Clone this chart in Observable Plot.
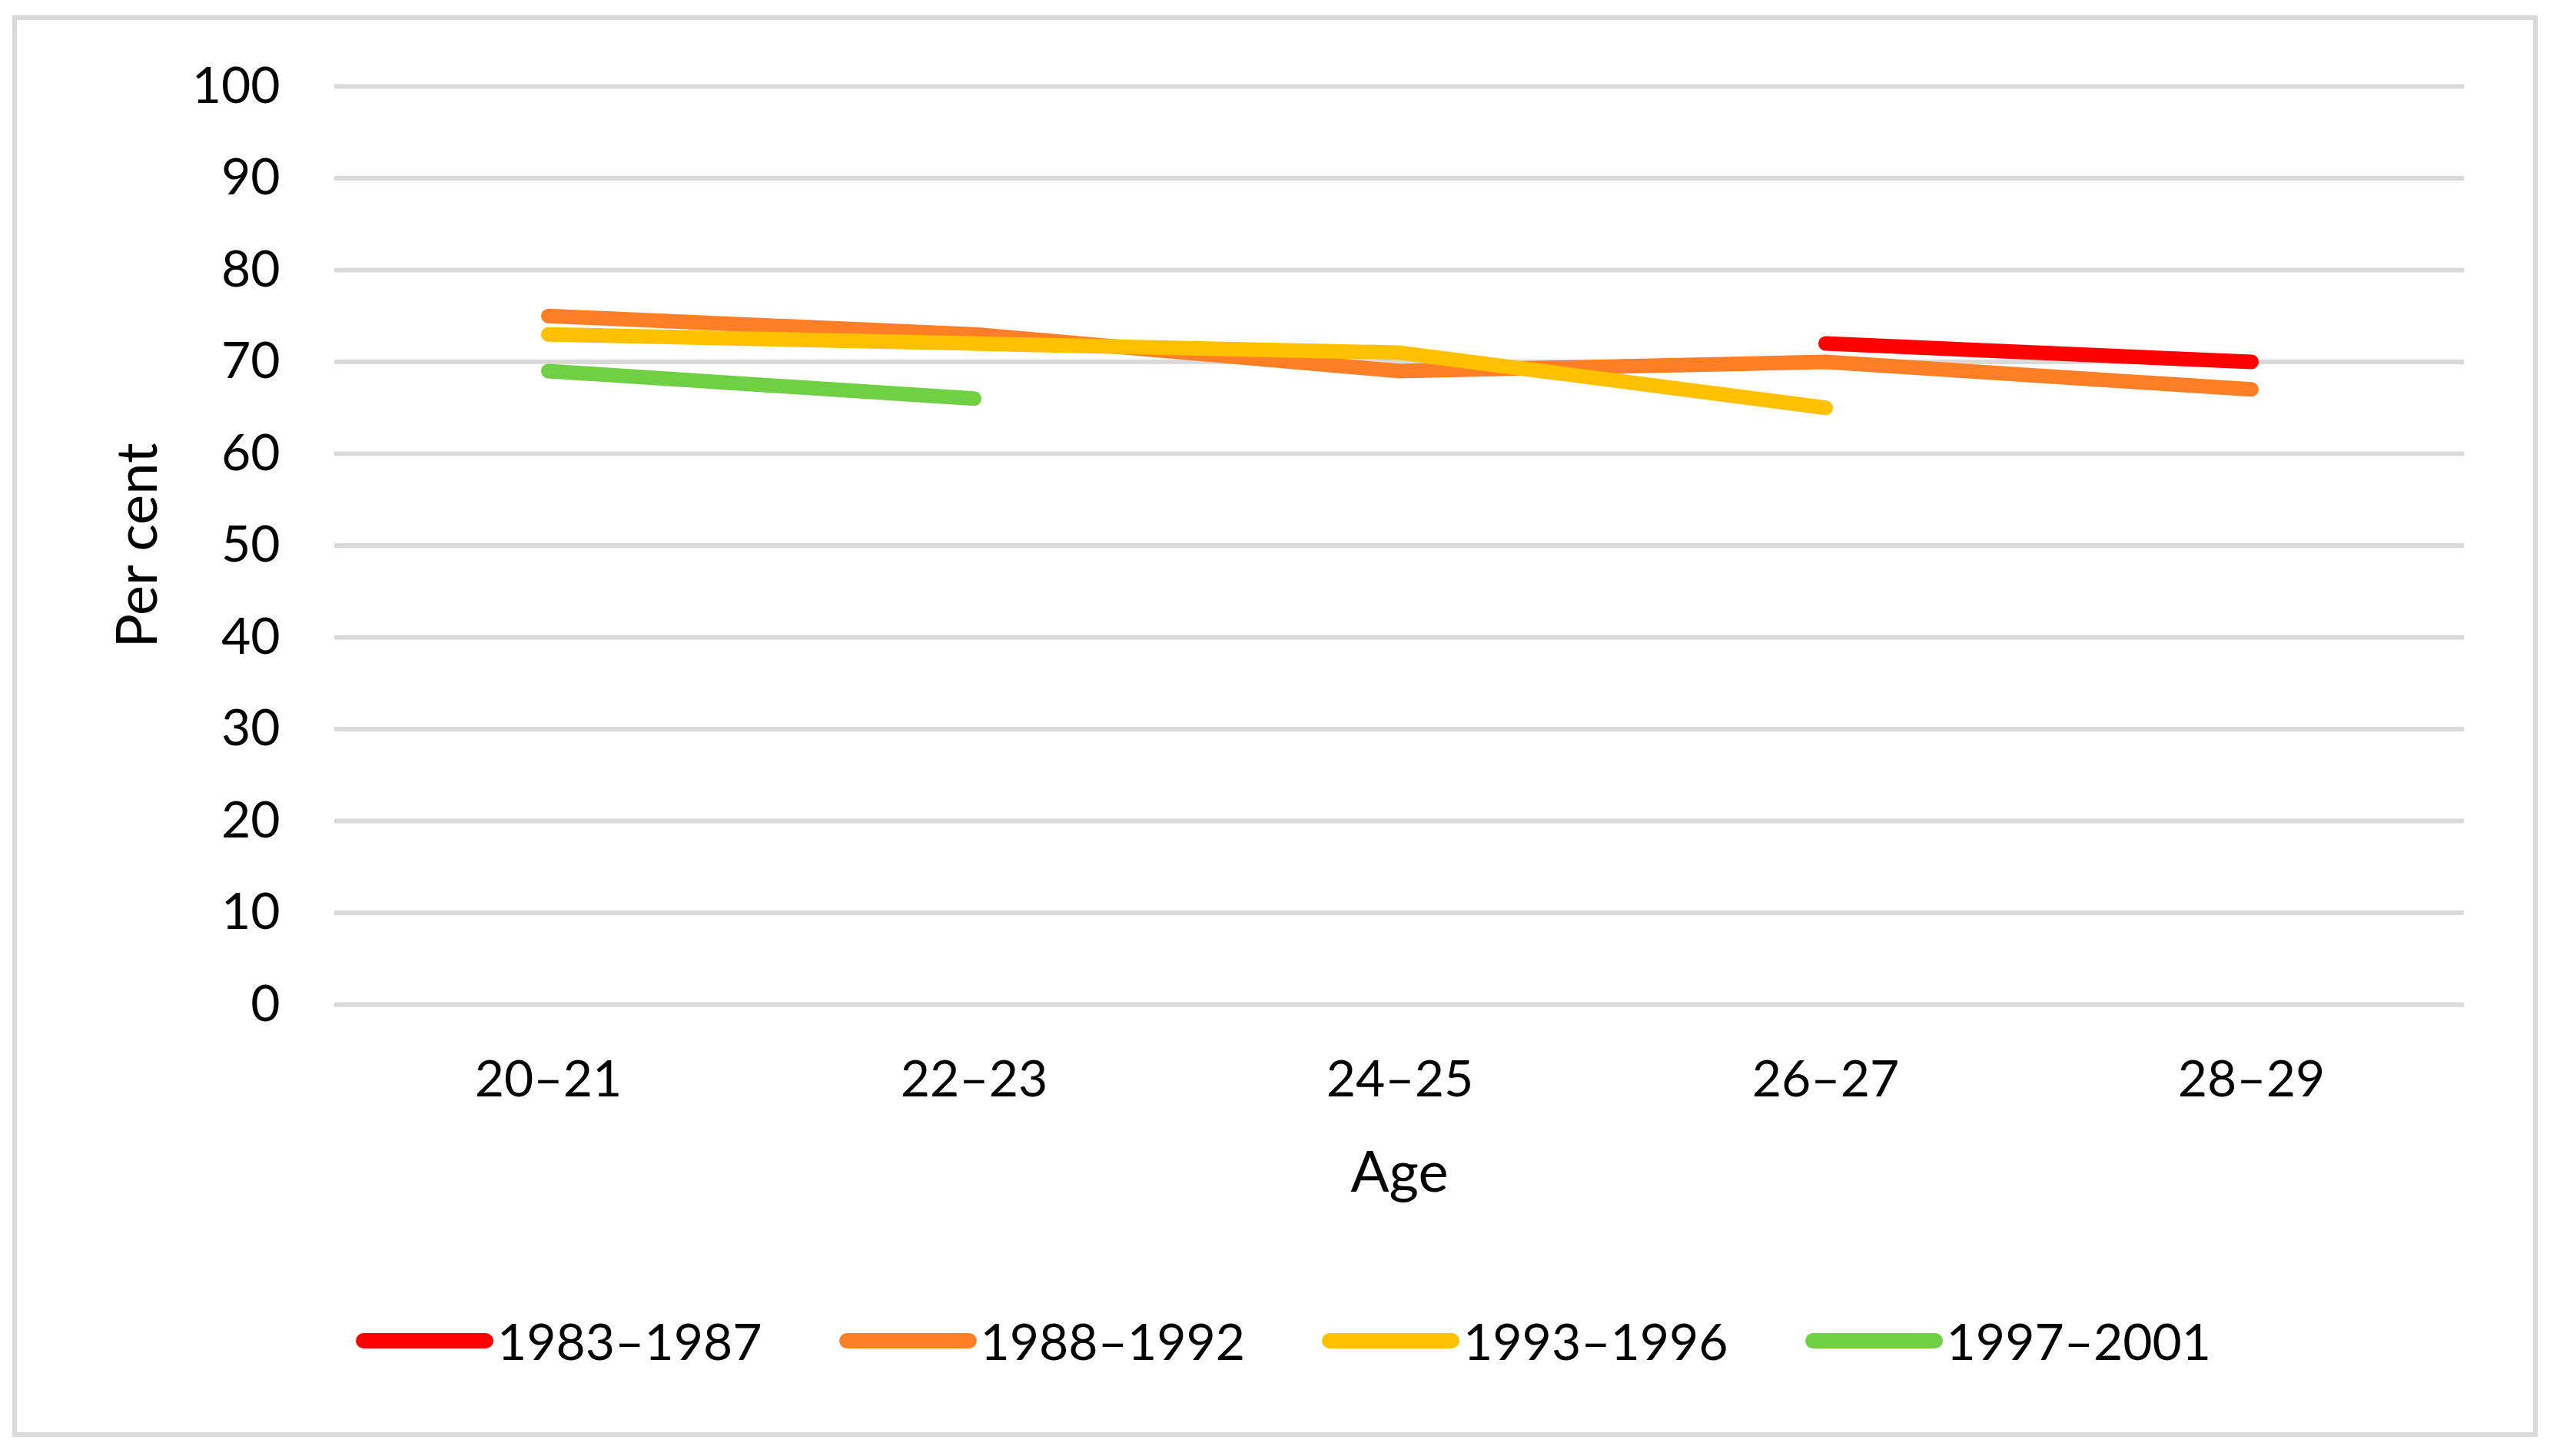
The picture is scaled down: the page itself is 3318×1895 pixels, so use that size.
<!DOCTYPE html>
<html>
<head>
<meta charset="utf-8">
<script src="https://cdn.jsdelivr.net/npm/d3@7"></script>
<script src="https://cdn.jsdelivr.net/npm/@observablehq/plot@0.6"></script>
<style>
  html, body { margin: 0; padding: 0; background: #fff; overflow: hidden; }
  body { width: 3318px; height: 1895px; position: relative; font-family: Lato, "Open Sans", sans-serif; }
  #frame { position: absolute; left: 16px; top: 20px; width: 3286px; height: 1850px; border: 6px solid #d9d9d9; box-sizing: border-box; }
  #chart { position: absolute; left: 0; top: 0; }
  #legend { position: absolute; left: 463px; top: 1705px; display: flex; align-items: center; gap: 100px; font-size: 66px; color: #000; }
  .item { display: flex; align-items: center; gap: 5px; }
  .item svg { display: block; }
</style>
</head>
<body>
<div id="frame"></div>
<div id="chart"></div>
<div id="legend"></div>
<script>
const ages = ["20–21", "22–23", "24–25", "26–27", "28–29"];
const seriesNames = ["1983–1987", "1988–1992", "1993–1996", "1997–2001"];
const seriesColors = ["#ff0000", "#ff7f27", "#ffc000", "#70d044"];
const s1983_1987 = [null, null, null, 72, 70];
const s1988_1992 = [75, 73, 69, 70, 67];
const s1993_1996 = [73, 72, 71, 65, null];
const s1997_2001 = [69, 66, null, null, null];
const yTicks = [0, 10, 20, 30, 40, 50, 60, 70, 80, 90, 100];
const yLabel = "Per cent";
const xLabel = "Age";

const seriesValues = [s1983_1987, s1988_1992, s1993_1996, s1997_2001];
const rows = [];
seriesValues.forEach((vals, si) => {
  vals.forEach((v, i) => {
    if (v != null) rows.push({series: seriesNames[si], age: ages[i], value: v});
  });
});

const W = 3318, H = 1600;
const chart = Plot.plot({
  width: W,
  height: H,
  marginLeft: 435,
  marginRight: 112,
  marginTop: 112,
  marginBottom: H - 1307,
  style: {fontFamily: "Lato, 'Open Sans', sans-serif", fontSize: "66px", color: "#000", background: "transparent"},
  x: {type: "point", domain: ages, padding: 0.5},
  y: {domain: [0, 100]},
  color: {domain: seriesNames, range: seriesColors},
  marks: [
    Plot.gridY(yTicks, {stroke: "#d9d9d9", strokeWidth: 6, strokeOpacity: 1}),
    Plot.axisY(yTicks, {tickSize: 0, tickPadding: 71, label: null, fontSize: 66}),
    Plot.axisX({tickSize: 0, tickPadding: 73, label: null, fontSize: 66}),
    Plot.line(rows, {
      x: "age", y: "value", z: "series", stroke: "series",
      strokeWidth: 19, strokeLinecap: "round", strokeLinejoin: "round"
    }),
    Plot.text([yLabel], {frameAnchor: "left", dx: -255, rotate: -90, textAnchor: "middle", fontSize: 74, fill: "#000"}),
    Plot.text([xLabel], {frameAnchor: "bottom", dy: 243, lineAnchor: "bottom", fontSize: 74, fill: "#000"})
  ]
});
document.getElementById("chart").appendChild(chart);

const legend = d3.select("#legend");
seriesNames.forEach((name, i) => {
  const item = legend.append("div").attr("class", "item");
  const svg = item.append("svg").attr("width", 179).attr("height", 24);
  svg.append("line").attr("x1", 10).attr("x2", 169).attr("y1", 12).attr("y2", 12)
    .attr("stroke", seriesColors[i]).attr("stroke-width", 20).attr("stroke-linecap", "round");
  item.append("span").text(name);
});
</script>
</body>
</html>
